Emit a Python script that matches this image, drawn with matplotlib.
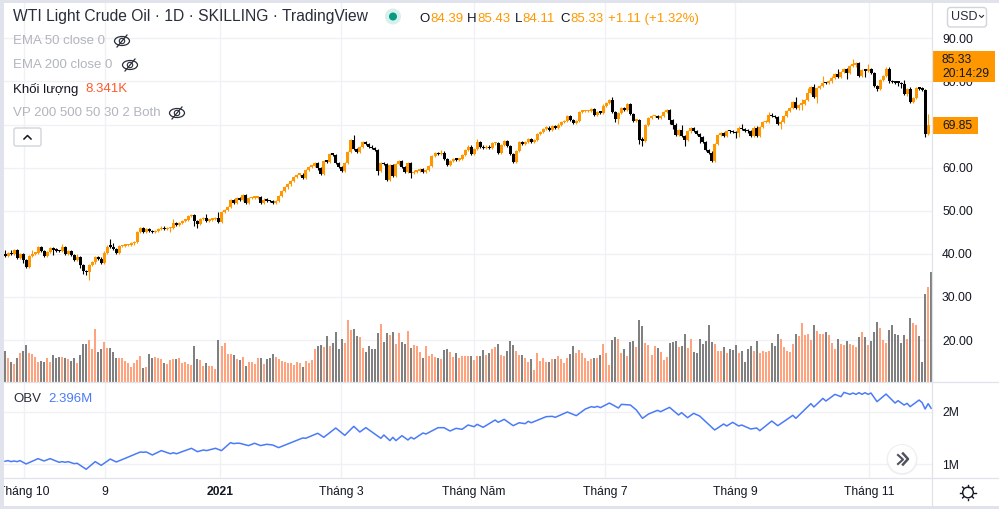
import matplotlib
matplotlib.use("Agg")
import matplotlib.pyplot as plt
from matplotlib.patches import Rectangle, FancyBboxPatch, Circle, Ellipse

plt.rcParams['font.family'] = ['Liberation Sans', 'DejaVu Sans']

first_open = 39.9
closes = [
39.5,40.2,39.9,40.8,39.0,40.0,38.6,37.0,39.5,40.0,40.2,41.6,40.6,39.5,40.5,41.3,41.0,40.7,40.6,41.5,
40.0,40.7,39.8,38.6,39.3,37.3,36.0,35.7,37.4,38.0,39.3,38.9,37.8,40.3,41.7,41.6,41.1,40.3,41.8,41.9,
42.0,42.1,42.4,42.7,45.1,46.0,45.0,45.8,45.3,45.0,45.2,45.7,46.1,45.7,45.9,46.0,47.1,46.8,47.1,47.7,
47.9,48.7,49.0,47.7,46.9,48.0,48.2,47.7,47.9,48.0,48.3,47.4,
49.8,50.1,50.9,52.5,51.7,53.0,52.5,53.6,51.8,52.9,53.0,53.05,53.1,51.7,52.6,52.3,52.2,51.8,52.2,53.5,
54.6,55.4,56.1,56.9,57.8,58.3,58.4,57.6,59.4,60.2,60.3,61.0,59.8,58.6,61.5,61.4,63.1,63.0,61.1,60.2,
59.3,61.1,63.7,66.4,64.4,63.7,
64.7,66.0,65.4,64.9,64.5,64.1,59.2,61.1,60.8,57.1,60.6,58.0,60.8,61.6,60.1,59.0,61.0,58.7,59.1,59.3,
59.7,59.1,59.4,60.4,62.7,63.3,63.1,63.5,62.1,60.7,61.6,61.9,61.8,62.0,62.9,64.0,64.9,63.2,64.3,66.0,
64.9,64.5,64.9,64.5,65.6,65.7,63.5,65.2,66.2,65.1,63.1,61.4,63.8,66.0,65.5,66.0,66.6,66.0,66.5,67.9,
68.3,69.0,69.3,68.7,69.7,69.3,70.0,70.5,70.9,72.0,71.0,70.3,70.9,73.0,73.05,73.1,73.2,73.6,72.2,72.8,
72.7,74.4,74.9,75.7,73.0,71.2,72.6,73.9,73.4,74.7,72.4,70.9,71.0,
66.3,66.2,69.8,71.6,71.9,72.0,71.5,72.0,73.0,73.4,71.1,70.0,67.6,68.8,67.4,66.4,68.4,69.1,68.5,67.8,
67.0,66.0,64.0,63.5,61.6,65.5,67.6,68.0,67.4,68.5,68.4,68.2,68.0,69.3,68.9,68.6,68.4,67.4,69.3,67.4,
69.5,70.5,70.7,72.2,71.9,71.7,70.2,70.7,71.9,73.2,73.9,75.3,73.9,74.6,74.7,75.6,77.4,
78.6,76.5,78.4,78.9,79.7,79.6,80.0,80.9,81.7,81.0,82.1,82.9,82.0,83.6,83.7,84.2,81.3,82.7,82.5,82.8,
82.0,79.0,78.3,80.3,81.3,83.0,80.0,79.8,79.75,79.7,79.4,77.1,78.3,75.3,76.1,78.4,78.35,78.1,67.9,69.85]
opens = [first_open] + closes[:-1]

default_wick = 0.25
upper_wicks = {0:0.9,2:0.6,9:1.0,19:0.7,24:0.6,35:1.7,36:0.8,56:0.9,67:1.1,71:1.3,116:1.2,145:0.6,157:0.6,
               202:0.6,212:0.9,225:1.2,245:0.9,254:0.8,255:0.5,263:1.0,265:1.3,267:1.0,269:0.7,272:1.5,
               277:1.2,282:1.4,287:1.2,294:0.4,299:0.9,301:0.4,307:2.7}
lower_wicks = {6:0.7,16:1.2,25:0.7,26:0.7,27:0.5,28:1.8,55:0.8,63:1.2,64:0.8,124:0.9,135:1.0,203:0.7,204:1.1,
               211:0.8,212:1.2,221:0.9,222:1.0,226:1.4,231:1.3,243:1.2,244:0.8,258:1.2,264:0.5,265:1.2,
               270:1.5,280:1.5,286:1.4,290:0.6,297:0.8,298:1.0,300:0.4,302:0.4,306:0.8,307:0.4}

volumes = [
31,24,20,18,24,29,31,37,29,28,25,20,21,20,24,20,27,24,25,25,24,23,21,24,19,27,38,38,42,33,53,30,33,40,34,34,30,24,24,24,
21,19,15,19,22,26,14,15,28,24,25,24,23,19,18,22,23,23,24,19,20,18,17,36,23,22,16,19,16,16,13,42,36,39,28,28,27,23,22,25,
16,20,20,18,24,24,18,23,24,28,25,23,21,20,19,19,17,20,19,15,21,
19,22,33,36,37,35,46,36,39,50,33,43,39,62,52,53,46,45,34,30,36,33,33,49,58,40,49,47,50,38,
49,40,38,51,34,37,36,30,24,36,26,28,25,24,23,32,33,30,25,29,24,26,26,26,26,22,26,26,32,27,29,
33,35,38,27,26,31,41,37,31,27,27,24,20,23,12,29,21,24,20,20,23,23,26,23,19,24,28,36,29,32,
29,24,21,23,24,24,27,38,29,17,42,45,43,
29,33,26,40,41,35,62,56,39,37,27,36,34,30,22,25,39,40,41,35,36,48,34,43,30,29,43,38,41,57,
40,38,31,31,35,29,33,32,37,29,31,20,33,36,31,41,29,31,30,31,39,36,48,43,35,31,30,38,48,46,59,47,48,42,57,51,48,
48,50,47,39,33,43,38,37,41,38,37,35,45,50,45,37,41,50,60,54,42,39,52,57,48,47,39,47,43,64,59,57,46,20,88,95,110]

obv_bars = [0,1,2,3,4,5,7,11,13,15,18,19,20,21,23,24,27,30,32,35,37,40,45,46,47,49,52,55,56,57,62,64,66,67,70,72,75,76,77,78,
81,83,85,87,89,91,99,100,104,106,110,113,116,118,120,125,126,128,129,130,132,134,135,136,139,140,144,146,148,150,152,154,156,157,159,
163,164,166,169,171,173,174,175,180,182,183,187,190,193,195,196,197,198,201,204,205,208,210,212,214,217,218,221,224,225,227,229,231,
236,239,240,242,244,245,248,250,251,255,257,262,263,268,269,272,273,276,278,279,281,282,283,284,285,286,287,288,290,293,296,297,299,300,301,304,305,306,307,308]
obv_values = [1.057,1.07,1.05,1.063,1.05,1.07,1.006,1.107,1.063,1.107,1.038,1.05,1.038,1.05,1.012,1.019,0.905,1.05,0.98,1.1,1.044,1.114,1.234,1.228,1.234,1.177,1.26,1.2,1.22,1.2,1.304,1.24,1.272,1.26,1.304,1.26,1.412,1.393,1.4,1.4,
1.355,1.4,1.355,1.38,1.367,1.317,1.5,1.494,1.59,1.513,1.69,1.55,1.722,1.614,1.697,1.494,1.557,1.45,1.513,1.45,1.544,1.462,1.513,1.481,1.595,1.576,1.696,1.696,1.633,1.684,1.665,1.747,1.715,1.76,1.703,
1.842,1.798,1.855,1.734,1.79,1.772,1.817,1.79,1.906,1.912,1.893,1.994,1.925,2.051,2.096,2.083,2.102,2.077,2.165,2.07,2.14,2.127,2.03,1.874,1.956,2.026,2.0,2.083,1.937,1.982,1.886,1.969,1.918,
1.652,1.766,1.728,1.798,1.728,1.747,1.671,1.69,1.639,1.823,1.734,1.931,1.874,2.153,2.09,2.254,2.203,2.33,2.286,2.368,2.33,2.355,2.33,2.362,2.33,2.362,2.33,2.355,2.191,2.336,2.165,2.21,2.127,2.159,2.096,2.222,2.172,2.051,2.153,2.064]

price_ticks = [20,30,40,50,60,70,80,90]
price_tick_labels = ['20.00','30.00','40.00','50.00','60.00','','80.00','90.00']
obv_ticks = [1,2]
obv_tick_labels = ['1M','2M']
time_positions = [6.3,33.3,71.5,111.7,156,199.5,242.8,287.3]
time_labels = ['Tháng 10','9','2021','Tháng 3','Tháng Năm','Tháng 7','Tháng 9','Tháng 11']

ORANGE = '#ff9800'
VOL_UP = '#ffa27e'
VOL_DOWN = '#808080'
GRID = '#f0f1f5'
BORDER = '#e0e3eb'
TEXT = '#131722'
W, H = 999, 509
SPACING = 3.007

fig = plt.figure(figsize=(W/100, H/100), dpi=100, facecolor='white')
def axes_px(l, t, r, b, **kw):
    return fig.add_axes([l/W, 1-b/H, (r-l)/W, (b-t)/H], **kw)

xlim = ((4-5)/SPACING, (932-5)/SPACING)

# price pane
ax_p = axes_px(4, 3, 932, 382)
ax_p.set_xlim(*xlim)
ax_p.set_ylim(10.26, 98.2)
ax_v = axes_px(4, 3, 932, 382)
ax_v.set_xlim(*xlim)
ax_v.set_ylim(0, 379)
ax_v.axis('off')
ax_p.set_zorder(1); ax_v.set_zorder(2); ax_v.patch.set_visible(False)
ax_c = axes_px(4, 3, 932, 382)
ax_c.set_xlim(*xlim); ax_c.set_ylim(10.26, 98.2); ax_c.axis('off'); ax_c.set_zorder(3); ax_c.patch.set_visible(False)

ax_p.set_yticks(price_ticks)
ax_p.set_yticklabels(price_tick_labels)
ax_p.yaxis.tick_right()
ax_p.set_xticks(time_positions)
ax_p.set_xticklabels([])
ax_p.grid(True, color=GRID, lw=1)
ax_p.tick_params(length=0, labelsize=8.7, colors=TEXT, pad=7.2)
for s in ax_p.spines.values():
    s.set_visible(False)

is_up = [c >= o for o, c in zip(opens, closes)]
idx = list(range(len(closes)))
colors = [ORANGE if u else '#000000' for u in is_up]
heights = [max(abs(c-o), 0.35) for o, c in zip(opens, closes)]
bottoms = [min(o, c) for o, c in zip(opens, closes)]
tops = [max(o, c) for o, c in zip(opens, closes)]
highs = [t + upper_wicks.get(i, default_wick) for i, t in enumerate(tops)]
lows = [b - lower_wicks.get(i, default_wick) for i, b in enumerate(bottoms)]
ax_c.vlines(idx, lows, highs, colors=colors, lw=0.8)
ax_c.bar(idx, heights, bottom=bottoms, width=3.0/SPACING, color=colors, lw=0)

vol_idx = list(range(len(volumes)))
vol_colors = [(VOL_UP if is_up[i] else VOL_DOWN) if i < len(is_up) else VOL_DOWN for i in vol_idx]
ax_v.bar(vol_idx, volumes, width=2.0/SPACING, color=vol_colors, lw=0)

# OBV pane
ax_o = axes_px(4, 383, 932, 478)
ax_o.set_xlim(*xlim)
ax_o.set_ylim(0.739, 2.546)
ax_o.plot(obv_bars, obv_values, color='#4a7bf7', lw=1.1, solid_joinstyle='round')
ax_o.set_yticks(obv_ticks)
ax_o.set_yticklabels(obv_tick_labels)
ax_o.yaxis.tick_right()
ax_o.set_xticks(time_positions)
ax_o.set_xticklabels([])
ax_o.grid(True, color=GRID, lw=1)
ax_o.tick_params(length=0, labelsize=8.7, colors=TEXT, pad=7.2)
for s in ax_o.spines.values():
    s.set_visible(False)

# time axis
ax_t = axes_px(4, 478, 932, 505)
ax_t.set_xlim(*xlim); ax_t.set_ylim(0, 1)
ax_t.set_yticks([])
ax_t.set_xticks(time_positions)
ax_t.set_xticklabels(time_labels)
ax_t.tick_params(axis='x', length=0, labelsize=8.7, colors=TEXT, pad=-13.7)
for lab in ax_t.get_xticklabels():
    if lab.get_text() == '2021':
        lab.set_fontweight('bold')
for s in ax_t.spines.values():
    s.set_visible(False)

# overlay in pixels
ov = fig.add_axes([0, 0, 1, 1], zorder=10)
ov.set_xlim(0, W); ov.set_ylim(H, 0); ov.axis('off'); ov.patch.set_visible(False)
def T(x, y, s, c=TEXT, px=13, ha='left', **kw):
    return ov.text(x, y, s, color=c, fontsize=px*0.72, ha=ha, va='center', **kw)
for r in [(0,0,4,H),(0,0,W,3),(0,506,W,3)]:
    ov.add_patch(Rectangle((r[0],r[1]),r[2],r[3],fc=BORDER,ec='none',zorder=9))
ov.plot([932,932],[3,506],color=BORDER,lw=0.9)
ov.plot([4,W],[382,382],color=BORDER,lw=0.9)
ov.plot([4,W],[478,478],color=BORDER,lw=0.9)

# legend
T(13,16.5,'WTI Light Crude Oil · 1D · SKILLING · TradingView','#2a2e39',px=15.65)
ov.add_patch(Circle((393,16.5),8,fc='#d6f0ec',ec='none'))
ov.add_patch(Circle((393,16.5),4,fc='#089981',ec='none'))
seq = [(419,'O',TEXT),(430,'84.39',ORANGE),(467,'H',TEXT),(477,'85.43',ORANGE),(515,'L',TEXT),(522.5,'84.11',ORANGE),
       (560,'C',TEXT),(570,'85.33',ORANGE),(608,'+1.11 (+1.32%)',ORANGE)]
for x,s,c in seq:
    T(x,18.5,s,c,px=13.3)
G = '#b2b5be'
T(13,41,'EMA 50 close 0',G,px=13.3)
T(13,65,'EMA 200 close 0',G,px=13.3)
T(13,89,'Khối lượng',TEXT,px=13.3)
T(85,89,'8.341K','#ff5a2b',px=13.3)
T(13,113,'VP 200 500 50 30 2 Both',G,px=13.3)
for x,y in [(122,41),(130,65),(177,113)]:
    ov.add_patch(Ellipse((x,y),15,9,fc='none',ec='#2a2e39',lw=0.9))
    ov.add_patch(Circle((x,y),2.7,fc='none',ec='#2a2e39',lw=0.8))
    ov.plot([x-5,x+5],[y+6,y-6],color='#2a2e39',lw=0.9)
ov.add_patch(FancyBboxPatch((14,128),27,18,boxstyle='round,pad=0,rounding_size=2',fc='white',ec='#d1d4dc',lw=1))
ov.plot([24,27.5,31],[139,135.5,139],color=TEXT,lw=1.1)
T(13,399,'OBV','#2a2e39',px=13.3)
T(48,399,'2.396M','#4a7bf7',px=13.3)

# price axis widgets
ov.add_patch(FancyBboxPatch((947.5,7.5),39,19.5,boxstyle='round,pad=0,rounding_size=3',fc='white',ec='#d1d4dc',lw=1))
T(951,17,'USD','#2a2e39',px=12.5)
ov.plot([979.5,981.5,983.5],[15.5,17.5,15.5],color='#2a2e39',lw=0.8)
ov.add_patch(Rectangle((932,51),63,31,fc=ORANGE,ec='none'))
T(942,59.5,'85.33',TEXT,px=12)
T(942,73.5,'20:14:29',TEXT,px=12)
ov.add_patch(Rectangle((932,117),46,17,fc=ORANGE,ec='none'))
T(942,125.5,'69.85',TEXT,px=12)

# navigation button
ov.add_patch(Circle((902,459.5),15.5,fc='#e8e9ee',ec='none',alpha=0.7))
ov.add_patch(Circle((902,459),14,fc='white',ec='none'))
ov.plot([898,903,898],[455,459.5,464],color='#50535e',lw=1.5)
ov.plot([903,908,903],[453.5,459,464.5],color='#50535e',lw=1.8)

# settings icon
ov.add_patch(Circle((968,492.5),5.3,fc='none',ec=TEXT,lw=1))
for dx,dy in [(0,-7.5),(0,7.5),(7.5,0),(-7.5,0),(5.3,-5.3),(-5.3,-5.3),(5.3,5.3),(-5.3,5.3)]:
    ov.plot([968+dx*0.8,968+dx*1.02],[492.5+dy*0.8,492.5+dy*1.02],color=TEXT,lw=1)

fig.savefig('out.png', dpi=100, facecolor='white')
